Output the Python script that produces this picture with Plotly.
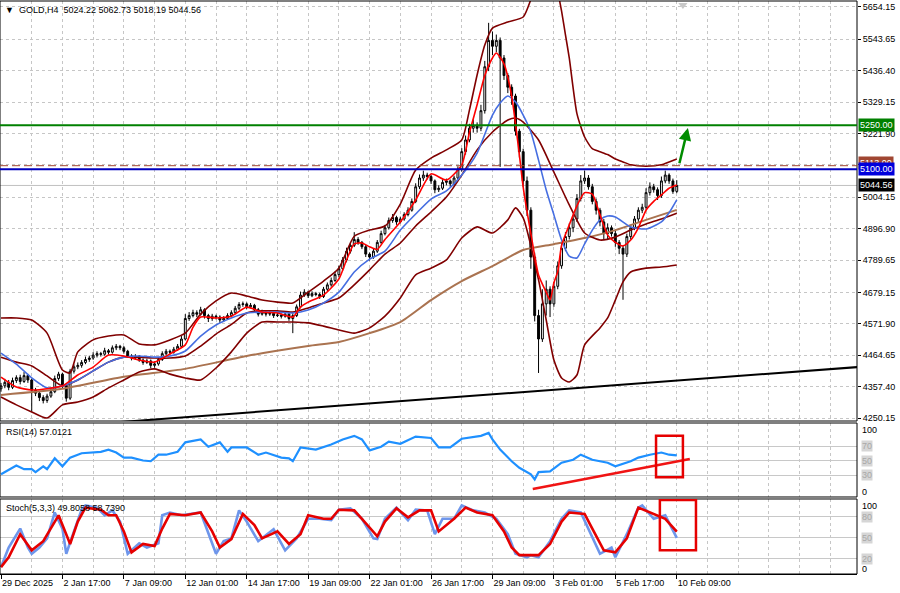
import plotly.graph_objects as go

# ---------------- data ----------------
bar_index = list(range(177))

opens = [4350, 4360, 4372, 4355, 4378, 4388, 4375, 4395, 4380, 4345,
         4335, 4320, 4310, 4325, 4340, 4385, 4400, 4360, 4318, 4410,
         4425, 4430, 4440, 4450, 4455, 4465, 4470, 4468, 4480, 4475,
         4490, 4495, 4490, 4478, 4462, 4455, 4460, 4448, 4440, 4445,
         4430, 4435, 4450, 4470, 4478, 4475, 4485, 4495, 4520, 4590,
         4600, 4610, 4605, 4620, 4600, 4590, 4598, 4595, 4585, 4590,
         4600, 4610, 4625, 4638, 4640, 4630, 4635, 4620, 4605, 4612,
         4605, 4608, 4600, 4602, 4598, 4605, 4590, 4600, 4630, 4670,
         4680, 4668, 4675, 4672, 4665, 4690, 4705, 4720, 4740, 4760,
         4790, 4820, 4840, 4860, 4850, 4835, 4810, 4800, 4820, 4850,
         4880, 4900, 4925, 4935, 4920, 4930, 4945, 4960, 4990, 5040,
         5070, 5080, 5075, 5060, 5030, 5035, 5055, 5060, 5050, 5070,
         5100, 5160, 5200, 5240, 5250, 5240, 5300, 5450, 5540, 5520,
         5540, 5480, 5420, 5380, 5350, 5230, 5160, 5060, 4960, 4800,
         4600, 4520, 4640, 4690, 4640, 4700, 4770, 4830, 4870, 4900,
         4930, 5000, 5060, 5070, 5040, 4990, 4960, 4920, 4880, 4900,
         4880, 4850, 4830, 4810, 4870, 4900, 4930, 4960, 4970, 5020,
         5040, 5030, 5010, 5060, 5080, 5060, 5024.22]

highs = [4370, 4384, 4380, 4388, 4396, 4398, 4407, 4401, 4385, 4353,
         4341, 4328, 4333, 4350, 4395, 4408, 4405, 4366, 4418, 4433,
         4440, 4448, 4460, 4463, 4475, 4478, 4476, 4490, 4486, 4498,
         4503, 4500, 4496, 4483, 4468, 4468, 4465, 4454, 4453, 4450,
         4443, 4458, 4478, 4486, 4484, 4493, 4503, 4530, 4605, 4612,
         4620, 4618, 4630, 4625, 4606, 4606, 4603, 4601, 4598, 4608,
         4618, 4633, 4646, 4648, 4645, 4643, 4640, 4626, 4620, 4617,
         4616, 4613, 4610, 4607, 4613, 4610, 4608, 4638, 4682, 4690,
         4685, 4683, 4681, 4678, 4698, 4713, 4730, 4750, 4770, 4800,
         4832, 4850, 4885, 4868, 4855, 4841, 4816, 4828, 4858, 4890,
         4910, 4935, 4947, 4941, 4938, 4953, 4970, 5000, 5052, 5082,
         5095, 5088, 5081, 5065, 5045, 5065, 5068, 5065, 5078, 5110,
         5172, 5215, 5255, 5270, 5260, 5320, 5470, 5600, 5570, 5560,
         5550, 5490, 5428, 5390, 5358, 5238, 5170, 5075, 4970, 4815,
         4620, 4690, 4720, 4700, 4715, 4785, 4850, 4885, 4915, 4945,
         5015, 5080, 5095, 5080, 5050, 5000, 4968, 4930, 4915, 4908,
         4890, 4858, 4840, 4880, 4910, 4940, 4970, 4982, 5035, 5055,
         5050, 5038, 5075, 5095, 5086, 5068, 5062.73]

lows = [4340, 4352, 4345, 4349, 4370, 4365, 4370, 4370, 4271, 4325,
        4308, 4300, 4302, 4319, 4335, 4377, 4352, 4306, 4312, 4402,
        4417, 4422, 4434, 4442, 4449, 4457, 4460, 4463, 4467, 4470,
        4482, 4482, 4470, 4456, 4447, 4449, 4442, 4432, 4435, 4420,
        4422, 4429, 4445, 4464, 4467, 4470, 4479, 4490, 4515, 4582,
        4594, 4595, 4600, 4590, 4578, 4582, 4587, 4575, 4579, 4585,
        4594, 4605, 4619, 4630, 4622, 4625, 4612, 4597, 4600, 4597,
        4599, 4592, 4595, 4590, 4593, 4582, 4540, 4595, 4625, 4664,
        4660, 4663, 4666, 4657, 4660, 4684, 4699, 4715, 4732, 4754,
        4782, 4812, 4834, 4842, 4827, 4800, 4788, 4794, 4814, 4845,
        4874, 4894, 4917, 4910, 4915, 4924, 4939, 4955, 4984, 5032,
        5060, 5065, 5050, 5018, 5022, 5029, 5045, 5040, 5044, 5065,
        5092, 5150, 5192, 5225, 5225, 5230, 5290, 5435, 5490, 5500,
        5108, 5405, 5360, 5320, 5215, 5140, 5040, 4940, 4760, 4580,
        4404, 4510, 4600, 4595, 4630, 4690, 4760, 4820, 4860, 4885,
        4920, 4990, 5050, 5030, 4980, 4945, 4905, 4860, 4860, 4870,
        4835, 4810, 4654, 4800, 4860, 4892, 4920, 4950, 4962, 5010,
        5020, 4995, 5002, 5052, 5050, 5016, 5018.19]

closes = [4360, 4372, 4355, 4378, 4388, 4375, 4395, 4380, 4345, 4335,
          4320, 4310, 4325, 4340, 4385, 4400, 4360, 4318, 4410, 4425,
          4430, 4440, 4450, 4455, 4465, 4470, 4468, 4480, 4475, 4490,
          4495, 4490, 4478, 4462, 4455, 4460, 4448, 4440, 4445, 4430,
          4435, 4450, 4470, 4478, 4475, 4485, 4495, 4520, 4590, 4600,
          4610, 4605, 4620, 4600, 4590, 4598, 4595, 4585, 4590, 4600,
          4610, 4625, 4638, 4640, 4630, 4635, 4620, 4605, 4612, 4605,
          4608, 4600, 4602, 4598, 4605, 4590, 4600, 4630, 4670, 4680,
          4668, 4675, 4672, 4665, 4690, 4705, 4720, 4740, 4760, 4790,
          4820, 4840, 4860, 4850, 4835, 4810, 4800, 4820, 4850, 4880,
          4900, 4925, 4935, 4920, 4930, 4945, 4960, 4990, 5040, 5070,
          5080, 5075, 5060, 5030, 5035, 5055, 5060, 5050, 5070, 5100,
          5160, 5200, 5240, 5250, 5240, 5300, 5450, 5540, 5520, 5540,
          5480, 5420, 5380, 5350, 5230, 5160, 5060, 4960, 4800, 4600,
          4520, 4640, 4690, 4640, 4700, 4770, 4830, 4870, 4900, 4930,
          5000, 5060, 5070, 5040, 4990, 4960, 4920, 4880, 4900, 4880,
          4850, 4830, 4810, 4870, 4900, 4930, 4960, 4970, 5020, 5040,
          5030, 5010, 5060, 5080, 5060, 5024.22, 5044.56]

assert len(opens) == len(highs) == len(lows) == len(closes) == 177

# time axis labels
tick_idx = [0, 16, 32, 48, 64, 80, 96, 112, 128, 144, 160, 176]
tick_labels = ["29 Dec 2025", "2 Jan 17:00", "7 Jan 09:00", "12 Jan 01:00",
               "14 Jan 17:00", "19 Jan 09:00", "22 Jan 01:00", "26 Jan 17:00",
               "29 Jan 09:00", "3 Feb 01:00", "5 Feb 17:00", "10 Feb 09:00"]
grid_idx = [8, 24, 40, 56, 72, 88, 104, 120, 136, 152, 168, 184, 192, 200, 208, 216]

price_ticks = [5654.15, 5543.65, 5436.40, 5329.15, 5221.90, 5114.65, 5004.15,
               4896.90, 4789.65, 4679.15, 4571.90, 4464.65, 4357.40, 4250.15]
price_tick_text = ["5654.15", "5543.65", "5436.40", "5329.15", "5221.90", "",
                   "5004.15", "4896.90", "4789.65", "4679.15", "4571.90",
                   "4464.65", "4357.40", "4250.15"]

# fast MA (red)
ma_fast_idx = [0, 4, 8, 12, 16, 20, 24, 28, 32, 36, 40, 44, 48, 50, 52, 56, 60, 64, 68, 72,
               76, 78, 80, 84, 88, 90, 92, 94, 96, 98, 100, 104, 108, 112, 116, 120, 122,
               124, 126, 128, 129, 131, 133, 135, 136, 138, 140, 142, 143, 144, 145, 146,
               148, 150, 152, 154, 156, 158, 160, 162, 164, 166, 168, 170, 172, 174, 176]
ma_fast = [4390, 4356, 4346, 4350, 4360, 4397, 4424, 4465, 4462, 4448, 4441, 4469, 4500,
           4560, 4595, 4592, 4598, 4629, 4612, 4609, 4595, 4629, 4646, 4670, 4725, 4790,
           4845, 4848, 4835, 4826, 4860, 4920, 4995, 5084, 5063, 5115, 5225, 5320, 5420,
           5480, 5497, 5460, 5350, 5150, 5039, 4880, 4739, 4680, 4653, 4712, 4750, 4840,
           4910, 4975, 5020, 5015, 4944, 4875, 4850, 4838, 4858, 4900, 4960, 4990, 5012,
           5035, 5046]

# medium MA (blue)
ma_mid_idx = [0, 4, 8, 12, 16, 20, 24, 28, 32, 36, 40, 44, 48, 52, 56, 60, 64, 68, 72, 76,
              80, 84, 88, 92, 96, 100, 104, 108, 112, 116, 120, 124, 128, 130, 132, 134,
              136, 138, 140, 142, 144, 146, 148, 150, 152, 154, 156, 158, 160, 164, 168,
              172, 174, 176]
ma_mid = [4472, 4434, 4387, 4353, 4360, 4380, 4411, 4441, 4458, 4462, 4458, 4462, 4479,
          4530, 4568, 4592, 4609, 4612, 4612, 4609, 4619, 4643, 4680, 4749, 4793, 4820,
          4892, 4947, 4998, 5026, 5080, 5155, 5285, 5326, 5350, 5330, 5285, 5227, 5131,
          5029, 4944, 4858, 4803, 4797, 4845, 4892, 4927, 4940, 4937, 4903, 4896, 4920,
          4951, 4995]

# slow MA (brown)
ma_slow_idx = [0, 16, 32, 48, 64, 80, 88, 96, 104, 112, 120, 128, 136, 144, 152, 160, 168, 176]
ma_slow = [4329, 4350, 4391, 4418, 4462, 4496, 4510, 4540, 4578, 4653, 4718, 4769, 4824,
           4844, 4865, 4892, 4927, 4961]

# Bollinger bands (maroon)
bb_up_idx = [0, 4, 8, 12, 16, 18, 20, 24, 28, 32, 36, 40, 44, 48, 52, 56, 60, 64, 68, 72,
             76, 80, 84, 88, 92, 96, 100, 104, 108, 112, 116, 120, 122, 124, 126, 128, 132,
             136, 138, 140, 142, 144, 145, 146, 147, 148, 150, 152, 154, 156, 158, 160, 162,
             164, 168, 172, 174, 176]
bb_up = [4592, 4592, 4585, 4540, 4414, 4404, 4476, 4517, 4530, 4534, 4503, 4500, 4517,
         4540, 4605, 4650, 4677, 4667, 4653, 4646, 4643, 4680, 4718, 4762, 4871, 4892,
         4906, 4981, 5097, 5138, 5166, 5200, 5302, 5422, 5524, 5582, 5603, 5620, 5680,
         5760, 5820, 5800, 5710, 5640, 5560, 5480, 5290, 5210, 5170, 5160, 5150, 5135,
         5125, 5115, 5110, 5115, 5125, 5135]
bb_mid_idx = [0, 4, 8, 12, 16, 20, 24, 28, 32, 36, 40, 44, 48, 52, 56, 60, 64, 68, 72, 76,
              80, 84, 88, 92, 96, 100, 104, 108, 112, 116, 120, 124, 128, 132, 134, 136,
              140, 144, 148, 152, 156, 160, 164, 168, 172, 176]
bb_mid = [4458, 4441, 4428, 4394, 4360, 4380, 4411, 4441, 4458, 4458, 4455, 4455, 4462,
          4496, 4537, 4570, 4609, 4616, 4616, 4612, 4626, 4643, 4660, 4705, 4756, 4810,
          4848, 4906, 4954, 5005, 5080, 5166, 5227, 5268, 5275, 5261, 5200, 5090, 4978,
          4882, 4858, 4868, 4892, 4913, 4930, 4950]
bb_low_idx = [0, 4, 8, 12, 16, 20, 24, 28, 32, 36, 40, 44, 48, 52, 56, 60, 64, 68, 72, 76,
              80, 84, 88, 92, 96, 100, 104, 108, 112, 116, 120, 124, 128, 132, 134, 136,
              140, 142, 144, 146, 148, 150, 152, 156, 158, 160, 162, 164, 168, 172, 176]
bb_low = [4322, 4295, 4271, 4250, 4295, 4305, 4322, 4353, 4380, 4407, 4418, 4400, 4387,
          4380, 4421, 4476, 4540, 4578, 4578, 4578, 4575, 4564, 4551, 4540, 4558, 4598,
          4660, 4739, 4762, 4790, 4865, 4903, 4882, 4927, 4968, 4934, 4722, 4585, 4448,
          4387, 4373, 4397, 4500, 4558, 4592, 4653, 4715, 4749, 4762, 4766, 4773]

# support trend line (black) end points
trend_idx = [0, 223]
trend_val = [4206, 4424]

# horizontal levels
level_green = 5250.00
level_blue = 5100.00
level_brown = 5112.00
last_price = 5044.56

# arrow (green) from / to
arrow_from = (176.6, 5115)
arrow_to = (178.9, 5241)

# RSI(14)
rsi_idx = [0, 3, 4, 6, 8, 9, 11, 12, 14, 16, 18, 21, 23, 26, 28, 30, 32, 34, 37, 39,
           41, 43, 46, 48, 52, 54, 57, 59, 60, 64, 67, 69, 73, 75, 76, 78, 82, 86, 89, 92,
           94, 96, 99, 101, 104, 108, 112, 114, 117, 120, 125, 127, 128, 130, 133, 135, 138,
           139, 140, 143, 146, 149, 151, 154, 158, 160, 164, 166, 169, 172, 174, 176]
rsi_val = [31, 40, 43, 38, 38, 34, 42, 38, 53, 42, 54, 60, 61, 62, 65, 61, 54, 54, 50, 49,
           58, 58, 62, 75, 79, 69, 75, 62, 68, 68, 58, 61, 54, 53, 49, 68, 65, 72, 79, 84,
           79, 64, 69, 76, 73, 83, 81, 68, 68, 80, 84, 88, 79, 65, 49, 40, 31, 24, 34, 35,
           47, 51, 58, 51, 47, 42, 49, 54, 58, 61, 58, 57.0121]
rsi_trend_idx = [138.5, 179.4]
rsi_trend_val = [10.7, 52]
rsi_box = (170.6, 177.6, 27, 84)

# Stochastic(5,3,3)
stk_idx = [0, 2, 5, 7, 8, 10, 12, 14, 16, 17, 19, 21, 22, 25, 27, 29, 31, 33, 36, 38,
           41, 42, 44, 47, 52, 54, 56, 58, 60, 62, 64, 67, 71, 74, 77, 80, 83, 86, 88, 91,
           94, 97, 98, 100, 103, 106, 108, 111, 113, 115, 118, 120, 123, 126, 129, 132, 134,
           137, 138, 140, 143, 146, 148, 151, 153, 156, 159, 160, 163, 166, 167, 170, 173, 176]
stk_main = [8, 36, 63, 36, 27, 36, 49, 86, 63, 27, 59, 90, 96, 93, 82, 89, 73, 27, 42, 36,
            42, 82, 86, 82, 86, 55, 27, 45, 49, 89, 73, 45, 62, 32, 49, 77, 77, 75, 90, 92,
            77, 49, 48, 77, 93, 75, 90, 89, 55, 77, 77, 96, 89, 86, 77, 55, 27, 22, 25, 22,
            45, 77, 89, 86, 63, 27, 36, 22, 55, 93, 96, 77, 82, 49.8058]
std_idx = [0, 2, 5, 8, 11, 15, 18, 20, 22, 26, 28, 30, 32, 34, 37, 40, 42, 44, 48, 52,
           55, 57, 60, 63, 66, 68, 72, 75, 78, 80, 84, 86, 88, 92, 94, 98, 100, 103, 106, 109,
           112, 114, 118, 121, 124, 128, 131, 133, 135, 138, 140, 143, 146, 148, 152, 154,
           157, 160, 163, 166, 170, 173, 176]
stk_signal = [8, 22, 55, 32, 45, 82, 41, 73, 93, 90, 82, 82, 59, 29, 41, 38, 63, 84, 82, 86,
              59, 36, 48, 84, 68, 49, 59, 41, 55, 82, 77, 77, 90, 89, 77, 52, 73, 92, 79, 89,
              89, 59, 77, 93, 86, 82, 59, 36, 25, 25, 25, 41, 73, 86, 84, 63, 32, 29, 49, 93,
              84, 77, 58.7390]
stoch_box = (171.6, 181.0, 32, 104)

# ---------------- styling ----------------
FONT = "Liberation Sans"
GRID = "#c6c6c6"
MAROON = "rgb(128,0,0)"

fig = go.Figure()

fig.add_trace(go.Candlestick(
    x=bar_index, open=opens, high=highs, low=lows, close=closes,
    xaxis="x", yaxis="y",
    increasing=dict(line=dict(color="black", width=1), fillcolor="white"),
    decreasing=dict(line=dict(color="black", width=1), fillcolor="black"),
    whiskerwidth=0, hoverinfo="skip", showlegend=False))

def line(xs, ys, color, width, yaxis="y"):
    fig.add_trace(go.Scatter(x=xs, y=ys, mode="lines", yaxis=yaxis, xaxis="x",
                             line=dict(color=color, width=width, shape="spline", smoothing=0.6),
                             hoverinfo="skip", showlegend=False))

line(ma_slow_idx, ma_slow, "rgb(170,115,80)", 2)
line(bb_up_idx, bb_up, MAROON, 1.6)
line(bb_mid_idx, bb_mid, MAROON, 1.6)
line(bb_low_idx, bb_low, MAROON, 1.6)
line(ma_mid_idx, ma_mid, "rgb(70,110,225)", 1.6)
line(ma_fast_idx, ma_fast, "rgb(255,0,0)", 1.6)
fig.add_trace(go.Scatter(x=trend_idx, y=trend_val, mode="lines", line=dict(color="black", width=2),
                         hoverinfo="skip", showlegend=False))

# top-right shift marker
fig.add_trace(go.Scatter(x=[177.6], y=[5661], mode="markers", cliponaxis=False,
                         marker=dict(symbol="triangle-down", size=8, color="#c8c8c8"),
                         hoverinfo="skip", showlegend=False))

# RSI
fig.add_trace(go.Scatter(x=rsi_idx, y=rsi_val, mode="lines", yaxis="y2",
                         line=dict(color="rgb(30,144,255)", width=2.2),
                         hoverinfo="skip", showlegend=False))
fig.add_trace(go.Scatter(x=rsi_trend_idx, y=rsi_trend_val, mode="lines", yaxis="y2",
                         line=dict(color="rgb(240,20,20)", width=2.5), cliponaxis=False,
                         hoverinfo="skip", showlegend=False))

# Stochastic
fig.add_trace(go.Scatter(x=stk_idx, y=stk_main, mode="lines", yaxis="y3",
                         line=dict(color="rgb(110,150,235)", width=2.6),
                         hoverinfo="skip", showlegend=False))
fig.add_trace(go.Scatter(x=std_idx, y=stk_signal, mode="lines", yaxis="y3",
                         line=dict(color="rgb(230,0,0)", width=2.6),
                         hoverinfo="skip", showlegend=False))

shapes = []
for ya in ["y", "y2", "y3"]:
    shapes.append(dict(type="rect", xref="x domain", yref=ya + " domain", x0=0, x1=1, y0=0, y1=1,
                       line=dict(color="black", width=1), layer="above"))
shapes.append(dict(type="line", xref="x domain", yref="y", x0=0, x1=1, y0=last_price, y1=last_price,
                   line=dict(color="#c0c0c0", width=1), layer="below"))
shapes.append(dict(type="line", xref="x domain", yref="y", x0=0, x1=1, y0=level_brown, y1=level_brown,
                   line=dict(color="rgb(160,70,50)", width=1, dash="8px,4px")))
shapes.append(dict(type="line", xref="x domain", yref="y", x0=0, x1=1, y0=level_green, y1=level_green,
                   line=dict(color="rgb(0,128,0)", width=2)))
shapes.append(dict(type="line", xref="x domain", yref="y", x0=0, x1=1, y0=level_blue, y1=level_blue,
                   line=dict(color="rgb(0,0,190)", width=2)))
shapes.append(dict(type="rect", xref="x", yref="y2", x0=rsi_box[0], x1=rsi_box[1], y0=rsi_box[2], y1=rsi_box[3],
                   line=dict(color="rgb(230,0,0)", width=2.5)))
shapes.append(dict(type="rect", xref="x", yref="y3", x0=stoch_box[0], x1=stoch_box[1], y0=stoch_box[2], y1=stoch_box[3],
                   line=dict(color="rgb(230,0,0)", width=2.5)))

annotations = []
annotations.append(dict(x=arrow_to[0], y=arrow_to[1], ax=arrow_from[0], ay=arrow_from[1],
                        xref="x", yref="y", axref="x", ayref="y", showarrow=True,
                        arrowhead=2, arrowsize=1, arrowwidth=2.5, arrowcolor="rgb(0,140,0)", text=""))

def price_box(y, text, bg, fg="white"):
    annotations.append(dict(xref="paper", x=1, xanchor="left", xshift=1, yref="y", y=y,
                            text=text, showarrow=False, bgcolor=bg, borderpad=1,
                            font=dict(family=FONT, size=9, color=fg)))

price_box(level_green, "5250.00", "rgb(0,128,0)")
price_box(level_brown + 9, "5113.00", "rgb(160,70,50)")
price_box(level_blue, "5100.00", "rgb(0,0,220)")
price_box(last_price, "5044.56", "black")

def sub_label(ya, y, text, boxed):
    annotations.append(dict(xref="paper", x=1, xanchor="left", xshift=4, yref=ya, y=y,
                            text=text, showarrow=False,
                            bgcolor="#d6d6d6" if boxed else None, borderpad=0,
                            font=dict(family=FONT, size=9, color="#a8a8a8" if boxed else "black")))

sub_label("y2", 92, "100", False)
sub_label("y2", 70, "70", True)
sub_label("y2", 50, "50", True)
sub_label("y2", 30, "30", True)
sub_label("y2", 7, "0", False)
sub_label("y3", 96, "100", False)
sub_label("y3", 80, "80", True)
sub_label("y3", 50, "50", True)
sub_label("y3", 20, "20", True)
sub_label("y3", 5, "0", False)

annotations.append(dict(xref="paper", yref="paper", x=0.003, y=0.984, xanchor="left", yanchor="middle",
                        text="▼  GOLD,H4  5024.22 5062.73 5018.19 5044.56", showarrow=False,
                        font=dict(family=FONT, size=9, color="black")))
annotations.append(dict(xref="paper", yref="y2 domain", x=0.005, y=0.88, xanchor="left", yanchor="middle",
                        text="RSI(14) 57.0121", showarrow=False,
                        font=dict(family=FONT, size=9, color="black")))
annotations.append(dict(xref="paper", yref="y3 domain", x=0.005, y=0.88, xanchor="left", yanchor="middle",
                        text="Stoch(5,3,3) 49.8058 58.7390", showarrow=False,
                        font=dict(family=FONT, size=9, color="black")))

fig.update_layout(
    width=900, height=593,
    margin=dict(l=0, r=43, t=1, b=19),
    paper_bgcolor="white", plot_bgcolor="white",
    showlegend=False, hovermode=False,
    font=dict(family=FONT, size=9, color="black"),
    xaxis=dict(domain=[0, 1], anchor="y3", range=[-0.26, 222.94],
               tickmode="array", tickvals=tick_idx, ticktext=tick_labels,
               ticks="outside", ticklen=4, tickcolor="black",
               ticklabelposition="outside right",
               tickfont=dict(family=FONT, size=9, color="black"),
               showgrid=True, gridcolor=GRID, griddash="3px,3px", gridwidth=1,
               minor=dict(tickmode="array", tickvals=grid_idx, showgrid=True,
                          gridcolor=GRID, griddash="3px,3px", ticks=""),
               showline=True, linecolor="black", zeroline=False,
               rangeslider=dict(visible=False), fixedrange=True),
    yaxis=dict(domain=[0.267, 1.0], anchor="x", side="right", range=[4239.9, 5674.6],
               tickmode="array", tickvals=price_ticks, ticktext=price_tick_text,
               ticks="outside", ticklen=3, tickcolor="black",
               tickfont=dict(family=FONT, size=9, color="black"),
               showgrid=True, gridcolor=GRID, griddash="3px,3px", zeroline=False,
               showline=False, fixedrange=True),
    yaxis2=dict(domain=[0.1344, 0.2635], anchor="x", side="right", range=[-0.3, 101.7],
                tickmode="array", tickvals=[30, 50, 70], showticklabels=False, ticks="",
                showgrid=True, gridcolor="#c8c8c8", gridwidth=1, zeroline=False, fixedrange=True),
    yaxis3=dict(domain=[0.0, 0.1309], anchor="x", side="right", range=[-1.9, 105.3],
                tickmode="array", tickvals=[20, 50, 80], showticklabels=False, ticks="",
                showgrid=True, gridcolor="#c8c8c8", gridwidth=1, zeroline=False, fixedrange=True),
    shapes=shapes, annotations=annotations,
)

fig.write_html("out.html", config={"displayModeBar": False, "staticPlot": True},
               post_script="document.body.style.margin='0';document.body.style.overflow='hidden';")
